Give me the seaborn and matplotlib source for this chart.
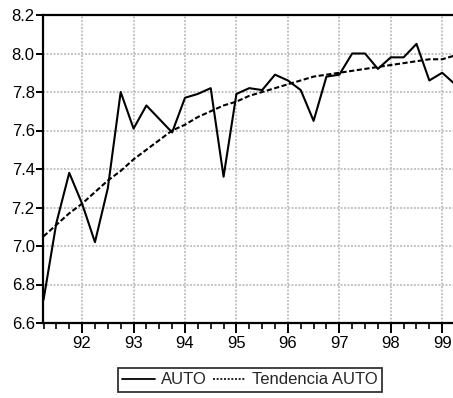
import matplotlib
matplotlib.use("Agg")
import matplotlib.pyplot as plt
import seaborn as sns
import pandas as pd
import numpy as np
from matplotlib.ticker import FixedLocator, MultipleLocator
from matplotlib.lines import Line2D

# Quarterly data 1991Q2 .. 1999Q2
quarters = ["1991Q2", "1991Q3", "1991Q4",
            "1992Q1", "1992Q2", "1992Q3", "1992Q4",
            "1993Q1", "1993Q2", "1993Q3", "1993Q4",
            "1994Q1", "1994Q2", "1994Q3", "1994Q4",
            "1995Q1", "1995Q2", "1995Q3", "1995Q4",
            "1996Q1", "1996Q2", "1996Q3", "1996Q4",
            "1997Q1", "1997Q2", "1997Q3", "1997Q4",
            "1998Q1", "1998Q2", "1998Q3", "1998Q4",
            "1999Q1", "1999Q2"]
auto = [6.72, 7.12, 7.38,
        7.22, 7.02, 7.30, 7.80,
        7.61, 7.73, 7.66, 7.59,
        7.77, 7.79, 7.82, 7.36,
        7.79, 7.82, 7.81, 7.89,
        7.86, 7.81, 7.65, 7.88,
        7.89, 8.00, 8.00, 7.92,
        7.98, 7.98, 8.05, 7.86,
        7.90, 7.84]
tendencia = [7.05, 7.11, 7.17,
             7.22, 7.28, 7.34, 7.39,
             7.45, 7.50, 7.55, 7.60,
             7.63, 7.67, 7.70, 7.73,
             7.75, 7.78, 7.80, 7.82,
             7.84, 7.86, 7.88, 7.89,
             7.90, 7.91, 7.92, 7.93,
             7.94, 7.95, 7.96, 7.97,
             7.97, 7.99]
year_ticks = [1992, 1993, 1994, 1995, 1996, 1997, 1998, 1999]
year_labels = ["92", "93", "94", "95", "96", "97", "98", "99"]
y_ticks = [6.6, 6.8, 7.0, 7.2, 7.4, 7.6, 7.8, 8.0, 8.2]
series_names = ["AUTO", "Tendencia AUTO"]

def q_to_num(q):
    return int(q[:4]) + (int(q[-1]) - 1) * 0.25

df = pd.DataFrame({"t": [q_to_num(q) for q in quarters],
                   "AUTO": auto, "Tendencia AUTO": tendencia})

sns.set_theme(style="white")
plt.rcParams["font.family"] = ["Liberation Sans", "DejaVu Sans"]

W, H = 453, 398
fig = plt.figure(figsize=(W / 100, H / 100), dpi=100)
ax = fig.add_axes([43 / W, 1 - 323 / H, (453 - 43) / W, (323 - 15) / H])

sns.lineplot(data=df, x="t", y="AUTO", ax=ax, color="black", lw=1.5,
             legend=False)
sns.lineplot(data=df, x="t", y="Tendencia AUTO", ax=ax, color="black", lw=1.5,
             legend=False)
ax.lines[1].set_linestyle((0, (2.5, 1.2)))

ax.set_xlim(1991.24, 1999.21)
ax.set_ylim(6.6, 8.2)
ax.xaxis.set_major_locator(FixedLocator(year_ticks))
ax.set_xticklabels(year_labels)
ax.xaxis.set_minor_locator(MultipleLocator(0.25))
ax.set_yticks(y_ticks)
ax.set_yticklabels([f"{v:.1f}" for v in y_ticks])
ax.set_xlabel("")
ax.set_ylabel("")

ax.grid(True, which="major", color="#c4c4c4", linestyle=(0, (1, 0.8)), lw=1.4)
ax.set_axisbelow(True)

for s in ["left", "top", "bottom"]:
    ax.spines[s].set_visible(True)
    ax.spines[s].set_color("black")
    ax.spines[s].set_linewidth(1.6)
ax.spines["right"].set_visible(False)

ax.tick_params(axis="x", which="major", direction="out", length=7, width=1.4,
               colors="black", labelsize=12, pad=2, bottom=True)
ax.tick_params(axis="x", which="minor", direction="out", length=4, width=1.2,
               colors="black", bottom=True)
ax.tick_params(axis="y", which="major", direction="out", length=5, width=1.4,
               colors="black", labelsize=12, pad=1, left=True)

handles = [Line2D([], [], color="black", lw=1.3, linestyle="-"),
           Line2D([], [], color="black", lw=1.2, linestyle=(0, (1.2, 1.0)))]
leg = fig.legend(handles, series_names, loc="center", bbox_to_anchor=(250 / W, 1 - 380 / H),
                 ncol=2, frameon=True, fancybox=False, shadow=False,
                 fontsize=12, handlelength=2.0, handletextpad=0.35,
                 columnspacing=0.35, borderpad=0.25, borderaxespad=0)
leg.get_frame().set_edgecolor("black")
leg.get_frame().set_linewidth(1.3)

fig.savefig("out.png", dpi=100)
